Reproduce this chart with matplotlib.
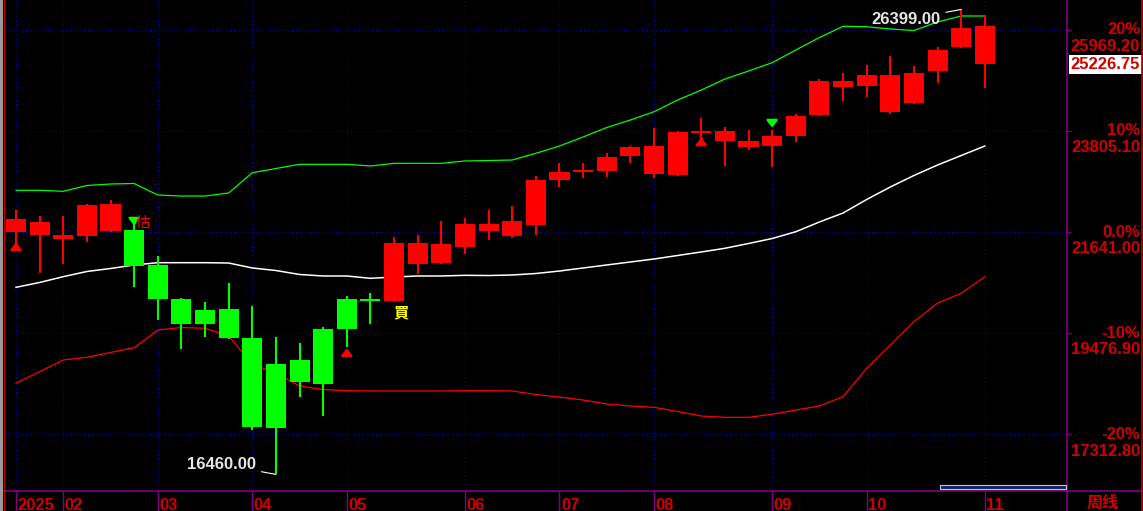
import matplotlib
matplotlib.use("Agg")
import matplotlib.pyplot as plt
from matplotlib.patches import Rectangle
from matplotlib.lines import Line2D

# weekly candles, 2025-01 .. 2025-11
opens = [21641, 21577, 21491, 21556, 21662, 21684, 20936, 20209, 19974, 19995,
         19375, 18820, 18905, 19568, 20209, 20209, 20166, 20957, 20978, 21320,
         21662, 21556, 21791, 22752, 22923, 22945, 23265, 22881, 22859, 23757,
         23586, 23458, 23479, 23693, 24142, 24740, 24762, 24206, 24398, 25082,
         25595, 26044]
highs = [22111, 21983, 21983, 22239, 22325, 21919, 21128, 20230, 20145, 20551,
         20059, 19397, 19268, 19610, 20273, 20337, 21534, 21577, 21876, 21940,
         22111, 22197, 22838, 23116, 23116, 23330, 23479, 23864, 23800, 24078,
         23885, 23821, 23821, 24163, 24911, 25039, 25210, 25403, 25189, 25595,
         26399, 26279]
lows = [21278, 20765, 20957, 21427, 21641, 20465, 19760, 19140, 19397, 19354,
        17409, 16460, 18114, 17708, 19183, 19675, 20150, 20743, 20957, 21171,
        21470, 21513, 21577, 22603, 22795, 22817, 23116, 22795, 22838, 23501,
        23052, 23394, 23030, 23565, 24120, 24441, 24526, 24163, 24380, 24826,
        25570, 24719]
closes = [21919, 21855, 21577, 22218, 22239, 20914, 20209, 19675, 19675, 19375,
          17473, 17452, 18435, 18392, 19568, 20166, 21406, 21406, 21385, 21812,
          21812, 21876, 22752, 22923, 22945, 23244, 23458, 23479, 23778, 23800,
          23800, 23586, 23693, 24120, 24868, 24868, 24997, 24997, 25039, 25531,
          26001, 25226.75]
is_red = [True] * 5 + [False] * 11 + [True] * 26

# BOLL
boll_up = [22532, 22532, 22511, 22635, 22667, 22678, 22432, 22410, 22410, 22475,
           22908, 22998, 23088, 23088, 23088, 23052, 23109, 23109, 23109, 23159,
           23169, 23180, 23323, 23479, 23672, 23875, 24035, 24212, 24462, 24676,
           24911, 25082, 25260, 25531, 25798, 26038, 26029, 25980, 25948, 26130,
           26258, 26258]
boll_mid = [20459, 20562, 20686, 20797, 20861, 20936, 20985, 20985, 20985, 20978,
            20872, 20818, 20733, 20701, 20701, 20651, 20679, 20701, 20701, 20715,
            20711, 20722, 20754, 20807, 20872, 20936, 21000, 21064, 21139, 21214,
            21293, 21395, 21502, 21647, 21855, 22047, 22336, 22603, 22849, 23073,
            23276, 23479]
boll_low = [18407, 18655, 18905, 18963, 19065, 19168, 19546, 19600, 19583, 19418,
            18820, 18621, 18349, 18275, 18249, 18243, 18243, 18243, 18243, 18249,
            18249, 18243, 18168, 18114, 18050, 17965, 17922, 17894, 17804, 17708,
            17680, 17680, 17745, 17836, 17922, 18121, 18728, 19226, 19724, 20123,
            20331, 20686]

month_idx = [0, 2, 6, 10, 14, 19, 23, 27, 32, 36, 41]
month_labels = ["2025", "02", "03", "04", "05", "06", "07", "08", "09", "10", "11"]

levels = [25969.20, 23805.10, 21641.00, 19476.90, 17312.80]
pct_labels = ["20%", "10%", "0.0%", "-10%", "-20%"]
last_price = 25226.75

# signal marks (candle index, tail price, tip price)
up_arrows = [(0, 21320, 21480), (14, 18970, 19215), (29, 23570, 23720)]
down_arrows = [(5, 21960, 21720), (32, 24030, 23815)]

RED = "#ff0000"
GREEN = "#00ff00"
PURPLE = "#800080"
LBL = "#d00000"
GRIDC = "#0000c8"
W, H = 1143, 511

fig = plt.figure(figsize=(W / 100, H / 100), dpi=100, facecolor="black")
ax = fig.add_axes([0, 20 / H, 1067 / W, 491 / H])
ax.set_facecolor("black")
ax.set_xlim(-16 / 23.63, (1067 - 16) / 23.63)
ax.set_ylim(16105, 26600)

for lv in levels:
    ax.axhline(lv, color=GRIDC, lw=0.75, ls=(0, (1, 2.5)), zorder=1)
for m in month_idx:
    ax.axvline(m, color=GRIDC, lw=0.75, ls=(0, (1, 2.5)), zorder=1)

n = len(opens)
xs = list(range(n))
ax.plot(xs, boll_up, color=GREEN, lw=0.9, zorder=2)
ax.plot(xs, boll_mid, color="white", lw=1.1, zorder=2)
ax.plot(xs, boll_low, color=RED, lw=0.9, zorder=2)

for i in xs:
    c = RED if is_red[i] else GREEN
    ax.vlines(i, lows[i], highs[i], color=c, lw=1.5, zorder=3)
    lo = min(opens[i], closes[i])
    h = max(abs(closes[i] - opens[i]), 40)
    ax.bar(i, h, bottom=lo, width=0.85, color=c, lw=0, zorder=4)

for i, tail, tip in up_arrows:
    ax.annotate("", xy=(i, tip), xytext=(i, tail),
                arrowprops=dict(arrowstyle="-|>,head_length=0.5,head_width=0.4",
                                color=RED, lw=1.8, mutation_scale=8),
                zorder=5)
for i, tail, tip in down_arrows:
    ax.annotate("", xy=(i, tip), xytext=(i, tail),
                arrowprops=dict(arrowstyle="-|>,head_length=0.5,head_width=0.4",
                                color=GREEN, lw=1.8, mutation_scale=8),
                zorder=5)

ax.text(5.38, 21833, "估", color=RED, fontsize=10.5, ha="center", va="center",
        family=["Noto Sans CJK SC", "DejaVu Sans"], zorder=6)
ax.text(16.29, 19931, "買", color="#ffff00", fontsize=11, fontweight="bold",
        ha="center", va="center", family=["Noto Sans CJK TC", "DejaVu Sans"], zorder=6)

# high / low marks
ax.annotate("16460.00", xy=(11, 16460), xytext=(-14.4, 7.2), textcoords="offset points",
            ha="right", va="center", color="#e6e6e6", fontsize=12, fontweight="bold",
            family="Liberation Sans",
            arrowprops=dict(arrowstyle="-", color="white", lw=0.8, shrinkA=2, shrinkB=0))
ax.annotate("26399.00", xy=(40, 26399), xytext=(-15.1, -7.6), textcoords="offset points",
            ha="right", va="center", color="#e6e6e6", fontsize=12, fontweight="bold",
            family="Liberation Sans",
            arrowprops=dict(arrowstyle="-", color="white", lw=0.8, shrinkA=2, shrinkB=0))

for s in ("left", "top"):
    ax.spines[s].set_visible(False)
for s in ("right", "bottom"):
    ax.spines[s].set_color(PURPLE)
    ax.spines[s].set_linewidth(1.2)
ax.yaxis.tick_right()
ax.set_yticks(levels)
ax.tick_params(axis="y", colors=PURPLE, length=3, width=1, labelright=False)
ax.set_xticks(month_idx)
ax.tick_params(axis="x", colors=PURPLE, length=14.4, width=1, labelbottom=False)

for m, lab in zip(month_idx, month_labels):
    ax.annotate(lab, xy=(m, 0), xycoords=("data", "axes fraction"), xytext=(1, -10.5),
                textcoords="offset points", ha="left", va="center", color=LBL,
                fontsize=12, fontweight="bold", family="Liberation Sans")

xr = 1140 / W
for lv, pl in zip(levels, pct_labels):
    ax.annotate(pl, xy=(xr, lv), xycoords=("figure fraction", "data"), ha="right",
                va="center", color=LBL, fontsize=12, fontweight="bold",
                family="Liberation Sans")
    ax.annotate(f"{lv:.2f}", xy=(xr, lv), xycoords=("figure fraction", "data"),
                xytext=(0, -11.9), textcoords="offset points", ha="right", va="center",
                color=LBL, fontsize=12, fontweight="bold", family="Liberation Sans")
ax.annotate(f"{last_price:.2f}", xy=(xr, last_price), xycoords=("figure fraction", "data"),
            ha="right", va="center", color=LBL, fontsize=12, fontweight="bold",
            family="Liberation Sans",
            bbox=dict(boxstyle="square,pad=0.12", fc="white", ec="none"))

fig.text(1103 / W, 8 / H, "周线", color=LBL, fontsize=11.5, fontweight="bold",
         ha="center", va="center", family=["Noto Sans CJK SC", "DejaVu Sans"])

# frame bits outside the plot
fig.lines.append(Line2D([1067 / W, 1141 / W], [20 / H, 20 / H], color=PURPLE, lw=1.2,
                        transform=fig.transFigure))
fig.lines.append(Line2D([1067 / W, 1067 / W], [0, 20 / H], color=PURPLE, lw=1.2,
                        transform=fig.transFigure))
fig.lines.append(Line2D([1141.5 / W, 1141.5 / W], [0, 1], color="#c00000", lw=1.2,
                        transform=fig.transFigure))
fig.patches.append(Rectangle((0, 0), 3 / W, 1, transform=fig.transFigure,
                             fc="#9a9a9a", ec="none"))
fig.lines.append(Line2D([4 / W, 4 / W], [0, 1], color="#c00000", lw=1.0,
                        transform=fig.transFigure))
fig.patches.append(Rectangle((940 / W, 22 / H), 126 / W, 4 / H, transform=fig.transFigure,
                             fc="#0a2560", ec="#c8c8c8", lw=0.8, zorder=10))

fig.savefig("out.png", dpi=100, facecolor="black")
